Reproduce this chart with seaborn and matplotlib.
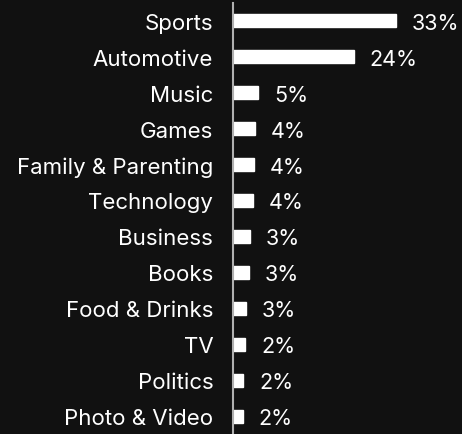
import matplotlib
matplotlib.use("Agg")
import matplotlib.pyplot as plt
import seaborn as sns
import pandas as pd

categories = ["Sports", "Automotive", "Music", "Games", "Family & Parenting",
              "Technology", "Business", "Books", "Food & Drinks", "TV",
              "Politics", "Photo & Video"]
shares = [33.0, 24.4, 5.1, 4.3, 4.2, 4.0, 3.4, 3.2, 2.6, 2.4, 2.0, 1.9]

BG = "#111111"
FG = "#ffffff"

sns.set_theme(style="white")
plt.rcParams["font.family"] = ["Inter", "DejaVu Sans"]

df = pd.DataFrame({"category": categories, "share": shares})

fig = plt.figure(figsize=(4.62, 4.35), dpi=100, facecolor=BG)
ax = fig.add_axes([0.505, 0.0, 0.495, 0.991], facecolor=BG)

sns.barplot(data=df, x="share", y="category", color=FG, width=0.36,
            saturation=1, ax=ax)

ax.set_xlim(0, 46.4)
ax.set_xlabel("")
ax.set_ylabel("")
ax.set_xticks([])
ax.tick_params(axis="y", length=0, pad=14.4, labelsize=16, labelcolor=FG)

for side in ["top", "right", "bottom"]:
    ax.spines[side].set_visible(False)
ax.spines["left"].set_color("#b0b0b0")
ax.spines["left"].set_linewidth(1.5)

for i, v in enumerate(shares):
    ax.annotate(f"{v:.0f}%", xy=(v, i), xytext=(11.5, 0),
                textcoords="offset points", ha="left", va="center_baseline",
                color=FG, fontsize=15.5)

fig.savefig("out.png", dpi=100, facecolor=BG)
